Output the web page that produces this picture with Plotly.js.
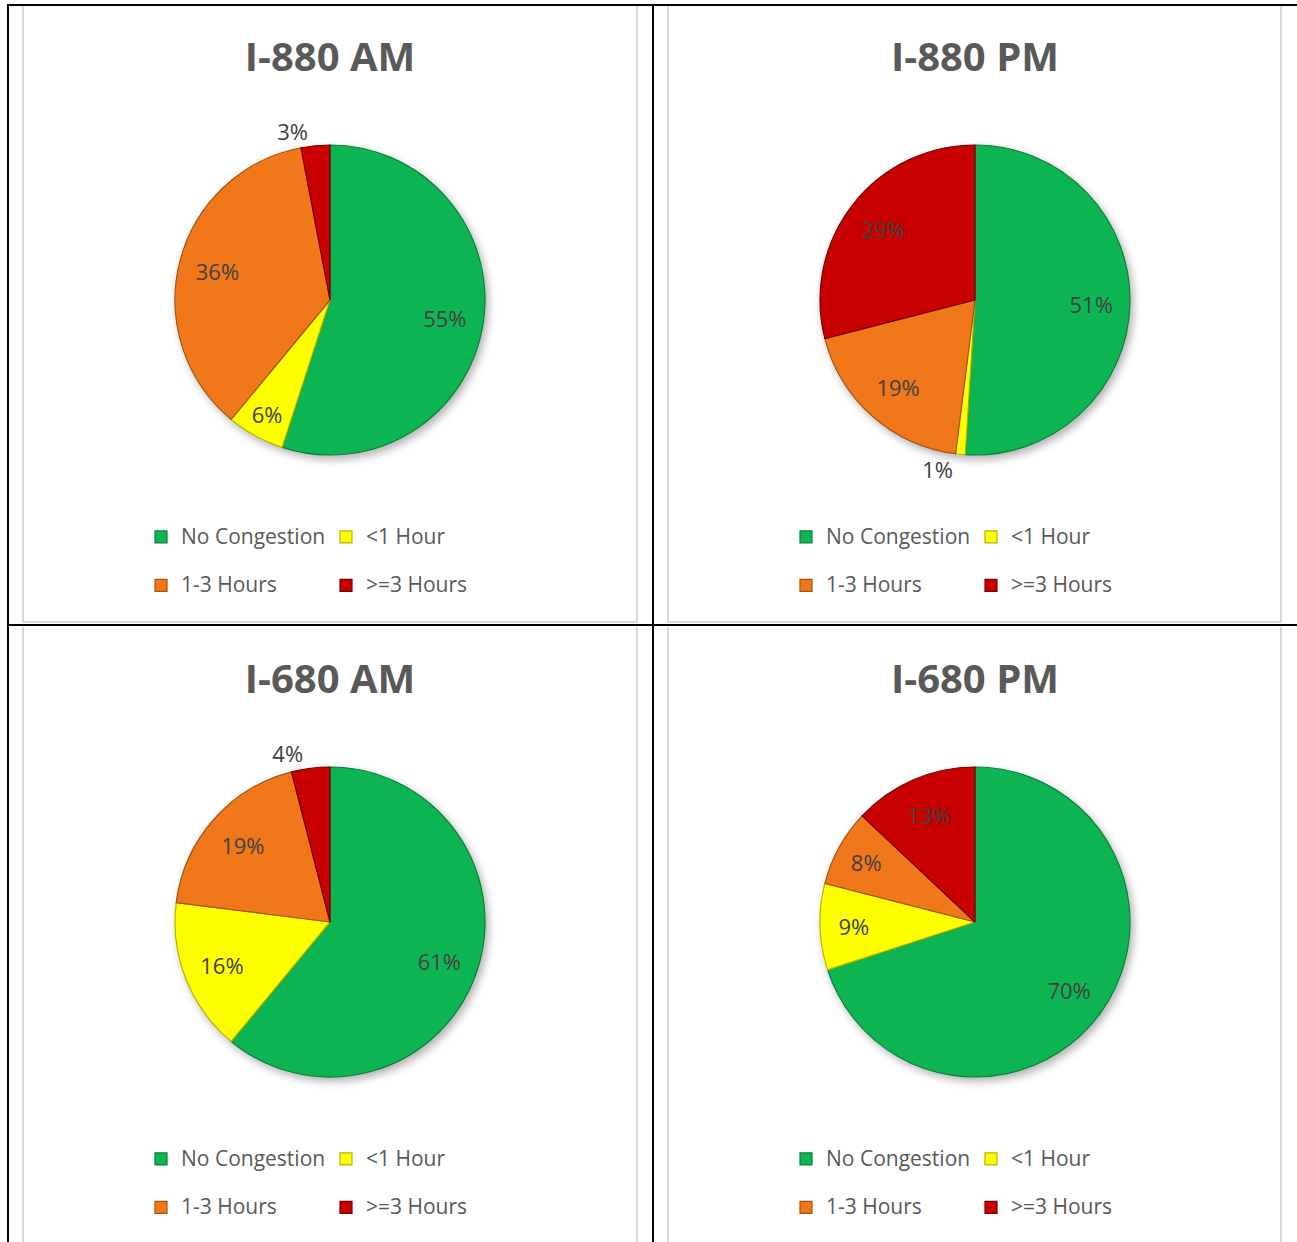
<!DOCTYPE html>
<html>
<head>
<meta charset="utf-8">
<script src="https://cdn.plot.ly/plotly-3.0.1.min.js"></script>
<style>
  body { margin: 0; background: #ffffff; }
  #page { position: relative; width: 1297px; height: 1242px; overflow: hidden; background: #ffffff; }
  .plot { position: absolute; width: 612px; height: 616px; }
  .ln { position: absolute; background: #000000; }
  .gb { position: absolute; background: #d9d9d9; }
  .plot .pielayer .trace:first-child { filter: drop-shadow(3px 4px 4px rgba(0,0,0,0.30)); }
</style>
</head>
<body>
<div id="page">
  <div class="plot" id="c0" style="left:24px;top:6px"></div>
  <div class="plot" id="c1" style="left:669px;top:6px"></div>
  <div class="plot" id="c2" style="left:24px;top:628px"></div>
  <div class="plot" id="c3" style="left:669px;top:628px"></div>

  <!-- light grey chart frames -->
  <div class="gb" style="left:22px;top:6px;width:2px;height:617px"></div>
  <div class="gb" style="left:636px;top:6px;width:2px;height:617px"></div>
  <div class="gb" style="left:667px;top:6px;width:2px;height:617px"></div>
  <div class="gb" style="left:1280px;top:6px;width:2px;height:617px"></div>
  <div class="gb" style="left:22px;top:621px;width:616px;height:2px"></div>
  <div class="gb" style="left:667px;top:621px;width:615px;height:2px"></div>
  <div class="gb" style="left:22px;top:627px;width:2px;height:615px"></div>
  <div class="gb" style="left:636px;top:627px;width:2px;height:615px"></div>
  <div class="gb" style="left:667px;top:627px;width:2px;height:615px"></div>
  <div class="gb" style="left:1280px;top:627px;width:2px;height:615px"></div>

  <!-- black table rules -->
  <div class="ln" style="left:7px;top:4px;width:2px;height:1238px"></div>
  <div class="ln" style="left:652px;top:4px;width:2px;height:1238px"></div>
  <div class="ln" style="left:7px;top:4px;width:1290px;height:2px"></div>
  <div class="ln" style="left:7px;top:624px;width:1290px;height:2px"></div>
</div>
<script>
// ---- data ----
const categories = ['No Congestion', '<1 Hour', '1-3 Hours', '>=3 Hours'];
const chartTitles = ['I-880 AM', 'I-880 PM', 'I-680 AM', 'I-680 PM'];
const i880AM = [55, 6, 36, 3];
const i880PM = [51, 1, 19, 29];
const i680AM = [61, 16, 19, 4];
const i680PM = [70, 9, 8, 13];
const seriesList = [i880AM, i880PM, i680AM, i680PM];

// ---- styling ----
const sliceColors = ['#0DB552', '#FFFF00', '#F0781A', '#C80000'];
const sliceEdges = ['#07803A', '#B5B500', '#A8520E', '#7A0000'];
const W = 612, H = 616;
const M = { l: 76, r: 76, t: 0, b: 0, autoexpand: false };
const gw = W - M.l - M.r, gh = H - M.t - M.b;
const cx = 306, cy = 294, R = 155;
const pieDomain = {
  x: [(cx - R - M.l) / gw, (cx + R - M.l) / gw],
  y: [(H - M.b - (cy + R)) / gh, (H - M.b - (cy - R)) / gh]
};
const esc = s => s.replace(/&/g, '&amp;').replace(/</g, '&lt;').replace(/>/g, '&gt;');
const legendLabels = categories.map(c => '<span style="font-size:21px">' + esc(c) + '</span><br>&nbsp;');

function draw(i) {
  const vals = seriesList[i];
  const base = {
    type: 'pie', values: vals, sort: false, direction: 'clockwise', rotation: 0,
    domain: pieDomain, hoverinfo: 'skip'
  };
  const pieTrace = Object.assign({}, base, {
    labels: legendLabels,
    marker: { colors: sliceColors, line: { color: sliceEdges, width: 1.2 } },
    textinfo: 'none',
    showlegend: true
  });
  const labelTrace = Object.assign({}, base, {
    labels: categories,
    hole: 0.5,
    marker: { colors: categories.map(() => 'rgba(0,0,0,0)'), line: { width: 0 } },
    textinfo: 'percent',
    textposition: vals.map(v => v < 5 ? 'outside' : 'inside'),
    insidetextorientation: 'horizontal',
    textfont: { family: 'Open Sans', size: 22, color: '#404040' },
    showlegend: false
  });
  const layout = {
    width: W, height: H, margin: M,
    paper_bgcolor: 'rgba(0,0,0,0)', plot_bgcolor: 'rgba(0,0,0,0)',
    font: { family: 'Open Sans', color: '#595959' },
    showlegend: true,
    title: {
      text: chartTitles[i], x: 0.5, xanchor: 'center',
      y: 1 - 51 / H, yanchor: 'middle',
      font: { family: 'Open Sans', size: 40, weight: 'bold', color: '#595959' }
    },
    legend: {
      orientation: 'h', x: (117 - M.l) / gw, xanchor: 'left',
      y: 1 - 513 / gh, yanchor: 'top',
      entrywidth: 140, entrywidthmode: 'pixels',
      valign: 'top', traceorder: 'normal',
      bgcolor: 'rgba(0,0,0,0)',
      font: { family: 'Open Sans', size: 17.5, color: '#595959' }
    }
  };
  Plotly.newPlot('c' + i, [pieTrace, labelTrace], layout, { displayModeBar: false, staticPlot: true });
}
for (let i = 0; i < 4; i++) draw(i);
</script>
</body>
</html>
